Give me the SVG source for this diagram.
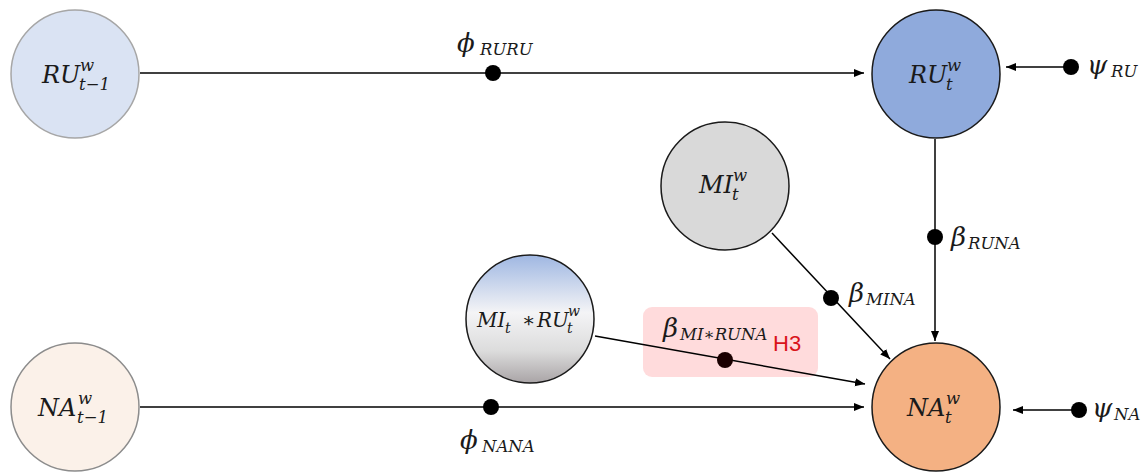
<svg xmlns="http://www.w3.org/2000/svg" width="1146" height="473" viewBox="0 0 1146 473">
  <defs>
    <marker id="arrow" viewBox="0 0 10 10" refX="10" refY="5" markerWidth="10" markerHeight="10" markerUnits="userSpaceOnUse" orient="auto">
      <path d="M0,1 L10,5 L0,9 z" fill="#000"/>
    </marker>
    <linearGradient id="mixGrad" x1="0" y1="0" x2="0" y2="1">
      <stop offset="0" stop-color="#9fb7e2"/>
      <stop offset="0.45" stop-color="#f4f4f6"/>
      <stop offset="0.75" stop-color="#dcdcdc"/>
      <stop offset="1" stop-color="#a9a4a6"/>
    </linearGradient>
  </defs>
  <style>
    .m { font-family: "DejaVu Serif", "Liberation Serif", serif; font-style: italic; fill: #1a1a1a; font-size: 24px; }
    .s { font-size: 16.5px; }
    .gk { font-size: 26px; }
    .mix { font-size: 20px; }
    .mixs { font-size: 14px; }
    .edge { stroke: #000; stroke-width: 1.5; fill: none; }
    .dot { fill: #000; }
    .h3 { font-family: "Liberation Sans", Arial, sans-serif; font-size: 22px; fill: #d9141b; }
  </style>

  <!-- connectors -->
  <g id="connectors">
    <line class="edge" x1="140" y1="73" x2="864" y2="73" marker-end="url(#arrow)"/>
    <circle class="dot" cx="493" cy="73" r="8"/>
    <line class="edge" x1="140" y1="407" x2="864" y2="407" marker-end="url(#arrow)"/>
    <circle class="dot" cx="491" cy="407" r="8"/>
    <line class="edge" x1="1070" y1="67" x2="1006" y2="67" marker-end="url(#arrow)"/>
    <circle class="dot" cx="1071" cy="67" r="8"/>
    <line class="edge" x1="1078" y1="410" x2="1013" y2="410" marker-end="url(#arrow)"/>
    <circle class="dot" cx="1079" cy="410" r="8"/>
    <line class="edge" x1="935" y1="139" x2="935" y2="341" marker-end="url(#arrow)"/>
    <circle class="dot" cx="935" cy="237" r="8"/>
    <line class="edge" x1="772" y1="233" x2="890" y2="359" marker-end="url(#arrow)"/>
    <circle class="dot" cx="831" cy="298" r="8"/>
  </g>

  <!-- interaction effect with highlight -->
  <g id="interaction-label">
    <rect x="643" y="307" width="175" height="70" rx="9" fill="#ffd7d8" opacity="0.9"/>
    <text class="m gk" x="663" y="337">β<tspan class="s" x="680" y="340">MI∗RUNA</tspan></text>
    <text class="h3" x="773" y="351">H3</text>
  </g>
  <g id="connector-interaction">
    <line class="edge" x1="595" y1="336" x2="865" y2="384" marker-end="url(#arrow)"/>
    <circle cx="725" cy="360" r="8" fill="#1a0000"/>
  </g>

  <!-- coefficient labels -->
  <g id="labels">
    <text class="m gk" x="457" y="52">ϕ<tspan class="s" x="480" y="55">RURU</tspan></text>
    <text class="m gk" x="460" y="449">ϕ<tspan class="s" x="482" y="452">NANA</tspan></text>
    <text class="m gk" x="951" y="246">β<tspan class="s" x="968" y="249">RUNA</tspan></text>
    <text class="m gk" x="849" y="302">β<tspan class="s" x="866" y="305">MINA</tspan></text>
    <text class="m gk" x="1087" y="74">ψ<tspan class="s" x="1111" y="77">RU</tspan></text>
    <text class="m gk" x="1092" y="417">ψ<tspan class="s" x="1114" y="420">NA</tspan></text>
  </g>

  <!-- nodes -->
  <g id="RU_prev">
    <circle cx="75" cy="74" r="64" fill="#dae3f3" stroke="#a6a6a6" stroke-width="1.5"/>
    <text class="m" x="42" y="83">RU<tspan class="s" x="80" y="71">w</tspan><tspan class="s" x="79" y="90">t−1</tspan></text>
  </g>
  <g id="RU_t">
    <circle cx="936" cy="74" r="64" fill="#8faadc" stroke="#1a1a1a" stroke-width="1.5"/>
    <text class="m" x="909" y="83">RU<tspan class="s" x="947" y="71">w</tspan><tspan class="s" x="946" y="90">t</tspan></text>
  </g>
  <g id="MI_t">
    <circle cx="725" cy="186" r="64" fill="#d9d9d9" stroke="#1a1a1a" stroke-width="1.5"/>
    <text class="m" x="699" y="193">MI<tspan class="s" x="733" y="181">w</tspan><tspan class="s" x="732" y="200">t</tspan></text>
  </g>
  <g id="MIxRU">
    <circle cx="530" cy="319" r="64" fill="url(#mixGrad)" stroke="#1a1a1a" stroke-width="1.5"/>
    <text class="m mix" x="477" y="327">MI<tspan class="mixs" x="505" y="333">t</tspan><tspan x="522" y="327">∗</tspan><tspan x="537" y="327">RU</tspan><tspan class="mixs" x="568" y="316">w</tspan><tspan class="mixs" x="567" y="333">t</tspan></text>
  </g>
  <g id="NA_prev">
    <circle cx="75" cy="407" r="64" fill="#fbf1e9" stroke="#8c8c8c" stroke-width="1.5"/>
    <text class="m" x="38" y="416">NA<tspan class="s" x="78" y="404">w</tspan><tspan class="s" x="77" y="423">t−1</tspan></text>
  </g>
  <g id="NA_t">
    <circle cx="936" cy="407" r="64" fill="#f4b183" stroke="#1a1a1a" stroke-width="1.5"/>
    <text class="m" x="907" y="416">NA<tspan class="s" x="946" y="404">w</tspan><tspan class="s" x="945" y="423">t</tspan></text>
  </g>
</svg>
